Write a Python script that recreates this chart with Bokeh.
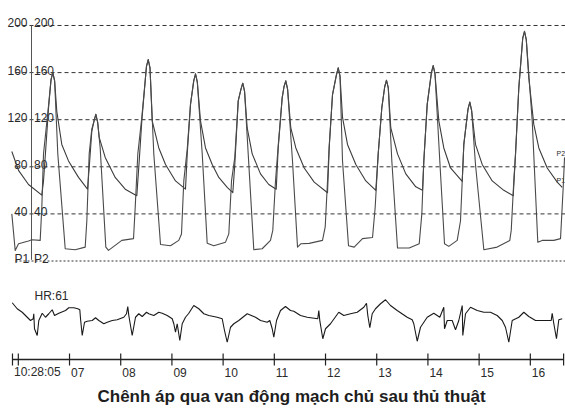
from bokeh.plotting import figure
from bokeh.models import Range1d, Title
from bokeh.embed import file_html
from bokeh.resources import INLINE
from bokeh.core.properties import value

# ---------------- data (time in s after 10:28:00, pressure in mmHg, ECG in mV) -------------
aorta_t = [5.873, 6.004, 6.199, 6.459,
           6.492, 6.537, 6.590, 6.639, 6.674, 6.709,
           6.752, 6.849, 6.980, 7.176, 7.351,
           7.384, 7.435, 7.479, 7.514, 7.549,
           7.580, 7.697, 7.892, 8.088, 8.314,
           8.361, 8.412, 8.478, 8.502, 8.537, 8.572,
           8.615, 8.744, 8.875, 9.070, 9.265,
           9.299, 9.363, 9.426, 9.461, 9.496,
           9.558, 9.656, 9.787, 9.916, 10.080, 10.189,
           10.228, 10.295, 10.349, 10.384, 10.419,
           10.470, 10.568, 10.730, 10.892, 11.037,
           11.076, 11.154, 11.189, 11.224, 11.259,
           11.322, 11.420, 11.584, 11.779, 12.039,
           12.072, 12.136, 12.213, 12.248, 12.283,
           12.332, 12.429, 12.592, 12.787, 12.982,
           13.029, 13.099, 13.156, 13.191, 13.226,
           13.275, 13.406, 13.568, 13.763, 13.894,
           13.920, 13.986, 14.068, 14.103, 14.138,
           14.213, 14.310, 14.441, 14.670,
           14.701, 14.783, 14.818, 14.853,
           14.929, 15.060, 15.256, 15.482, 15.666,
           15.711, 15.775, 15.851, 15.886, 15.921,
           15.970, 16.068, 16.166, 16.330, 16.525, 16.623]
aorta_p = [93, 77, 65, 56,
           68, 96, 130, 154, 160, 153,
           127, 99, 85, 71, 61,
           79, 110, 119, 124.5, 118,
           105, 88, 71, 61, 55.5,
           85, 119, 153, 165, 171, 164,
           119, 96, 82, 68, 61,
           91, 133, 153, 159, 152,
           119, 96, 82, 71, 62.5, 58,
           82, 136, 146, 151, 144,
           113, 91, 74, 65, 61,
           96, 138.6, 148, 153, 146,
           113, 96, 79, 67, 58,
           96, 141, 158, 164, 157,
           122, 99, 82, 68, 60,
           91, 130, 148, 153.5, 147,
           113, 91, 74, 63, 60,
           85, 133, 160, 166, 159,
           119, 96, 79, 67.6,
           99, 129, 135, 128,
           99, 82, 68, 60, 55.5,
           91, 147, 189, 195, 188,
           155.5, 116, 96, 79, 67, 62.5]

lv_t = [5.873, 5.939, 6.004, 6.199, 6.263, 6.427,
        6.459, 6.492, 6.590, 6.639, 6.674, 6.709, 6.771, 6.916, 7.111, 7.306,
        7.338, 7.384, 7.435, 7.479, 7.514, 7.549, 7.599, 7.709, 7.761, 8.021, 8.250,
        8.283, 8.334, 8.412, 8.478, 8.502, 8.537, 8.572, 8.646, 8.777, 8.972, 9.134, 9.187,
        9.232, 9.299, 9.363, 9.426, 9.461, 9.496, 9.592, 9.689, 9.818, 10.047, 10.111,
        10.164, 10.228, 10.295, 10.349, 10.384, 10.419, 10.490, 10.599, 10.763, 10.925, 10.970,
        11.023, 11.076, 11.154, 11.189, 11.224, 11.259, 11.355, 11.453, 11.517, 11.681, 11.941, 11.994,
        12.039, 12.072, 12.136, 12.213, 12.248, 12.283, 12.332, 12.449, 12.560, 12.722, 12.918,
        12.970, 13.029, 13.099, 13.156, 13.191, 13.226, 13.295, 13.406, 13.634, 13.830,
        13.881, 13.920, 13.986, 14.068, 14.103, 14.138, 14.232, 14.324, 14.408, 14.572, 14.636,
        14.670, 14.701, 14.783, 14.818, 14.853, 14.929, 15.092, 15.353, 15.599, 15.627,
        15.677, 15.711, 15.775, 15.851, 15.886, 15.921, 16.037, 16.146, 16.232, 16.459, 16.590,
        16.642, 16.668]
lv_p = [40, 9, 14.6, 17, 18, 17.5,
        45.6, 91, 132, 154, 160, 153, 91, 10.4, 9.6, 11.8,
        34, 91, 112, 119, 124.5, 118, 96, 11.8, 9, 17.5, 19,
        45.6, 91, 122, 153, 165, 171, 164, 91, 14, 13, 17.5, 23,
        68, 95, 133, 153, 159, 152, 91, 15, 13, 16, 23,
        68, 88, 136, 146, 151, 144, 91, 9.6, 10.4, 17.5, 26,
        68, 98, 139, 148, 153, 146, 85, 11.8, 14.6, 15, 17.5, 29,
        68, 98, 141, 158, 164, 157, 85, 13, 11.8, 19, 20,
        45.6, 91, 130, 148, 153.5, 147, 85, 11, 11, 14.6,
        40, 85, 133, 160, 166, 159, 85, 14.6, 12.4, 17.5, 34,
        68, 99, 129, 135, 128, 82, 9.6, 11.8, 17.5, 26,
        68, 91, 147, 189, 195, 188, 119, 16, 17.5, 17.5, 19,
        62.5, 88]

ecg_t = [5.881, 5.978, 6.076, 6.174, 6.238, 6.291, 6.302, 6.316, 6.369, 6.400, 6.467, 6.531,
         6.595, 6.662, 6.707, 6.791, 6.922, 6.986, 7.084, 7.162, 7.201, 7.215, 7.248, 7.293,
         7.345, 7.443, 7.508, 7.572, 7.670, 7.736, 7.834, 7.931, 8.060, 8.113, 8.138, 8.158,
         8.224, 8.289, 8.353, 8.420, 8.504, 8.548, 8.646, 8.744, 8.810, 8.908, 9.006, 9.037,
         9.070, 9.103, 9.154, 9.201, 9.265, 9.330, 9.427, 9.525, 9.623, 9.720, 9.884, 9.982,
         10.027, 10.080, 10.144, 10.209, 10.306, 10.470, 10.633, 10.730, 10.861, 10.912, 10.959,
         10.990, 11.043, 11.121, 11.218, 11.316, 11.381, 11.511, 11.642, 11.849, 11.869, 11.888,
         11.947, 12.000, 12.097, 12.259, 12.357, 12.488, 12.619, 12.748, 12.800, 12.826, 12.865,
         12.912, 12.976, 13.074, 13.172, 13.269, 13.400, 13.595, 13.693, 13.724, 13.791, 13.855,
         13.986, 14.115, 14.232, 14.310, 14.324, 14.377, 14.474, 14.539, 14.603, 14.670, 14.681,
         14.734, 14.832, 14.963, 15.092, 15.222, 15.353, 15.451, 15.515, 15.580, 15.646, 15.775,
         15.873, 15.970, 16.101, 16.408, 16.427, 16.459, 16.511, 16.556, 16.623]
ecg_mv = [0.55, 0.31, 0.17, -0.03, -0.16, -0.09, 0.11, -0.49, -0.76, -0.16, 0.13, -0.03,
          0.11, 0.27, 0.04, 0.13, 0.24, 0.35, 0.35, 0.31, 0.27, -0.09, -0.76, -0.23,
          -0.19, -0.16, -0.05, -0.16, -0.29, -0.23, -0.16, -0.13, -0.03, 0.11, 0.40, 0.04,
          -0.76, -0.03, 0.11, 0.00, 0.17, 0.11, 0.04, 0.17, 0.13, 0.04, -0.09, -0.29,
          -0.63, -0.29, -0.96, -0.29, -0.03, 0.13, 0.44, 0.31, 0.11, 0.04, -0.03, -0.09,
          -0.56, -1.03, -0.43, -0.29, -0.16, 0.11, -0.03, -0.16, -0.23, -0.16, -0.49,
          -0.83, -0.16, 0.24, 0.40, 0.24, 0.21, 0.04, -0.03, -0.09, 0.24, -0.16,
          -0.89, -0.49, -0.29, 0.17, 0.04, 0.11, 0.17, 0.37, 0.53, 0.04, -0.45,
          0.11, 0.31, 0.51, 0.67, 0.44, 0.24, -0.03, -0.13, -0.29, -0.99, -0.43,
          -0.03, 0.13, -0.03, 0.37, -0.49, -0.16, -0.16, -0.53, -0.16, 0.44, -0.76,
          0.11, 0.37, 0.24, 0.17, 0.17, 0.04, -0.16, -0.43, -1.03, -0.16, -0.03,
          0.17, 0.00, -0.16, -0.16, 0.13, -0.29, -0.89, -0.13, -0.09]

grid_levels = [200, 160, 120, 80, 40]
zero_level = [0]
scale_labels = ["200", "160", "120", "80", "40"]
channel_labels = ["P1", "P2"]
time_ticks = [5.886, 6, 7, 8, 9, 10, 11, 12, 13, 14, 15, 16]
time_end = 16.65
time_labels = ["10:28:05", "", "07", "08", "09", "10", "11", "12", "13", "14", "15", "16"]
hr_text = ["HR:61"]
title_text = "Chênh áp qua van động mạch chủ sau thủ thuật"

# ---------------- figure -------------
FONT = "Liberation Sans"
TXT = "#2a2a2a"
LINE = "#3c3c3c"

p = figure(frame_width=565, frame_height=382, output_backend="svg", toolbar_location=None,
           x_range=Range1d(5.652, 16.687), y_range=Range1d(-103.18, 221.23),
           x_axis_type=None, y_axis_type=None, min_border=0,
           outline_line_color=None, background_fill_color="white", border_fill_color="white")
# helper ranges in page pixel units (for layout elements only)
p.extra_x_ranges = {"px": Range1d(0, 565)}
p.extra_y_ranges = {"py": Range1d(382, 0), "ecg": Range1d(-2.64, 12.64)}

# pressure grid
p.segment(x0=15, x1=565, y0=grid_levels, y1=grid_levels, x_range_name="px",
          line_color="#333333", line_width=1, line_dash="4 3")
p.segment(x0=15, x1=565, y0=zero_level, y1=zero_level, x_range_name="px",
          line_color="#333333", line_width=1, line_dash="2 2")
# vertical scale line
p.segment(x0=[31], x1=[31], y0=[1], y1=[200], x_range_name="px",
          line_color="#555555", line_width=1)

# scale labels
p.text(x=27, y=grid_levels, text=scale_labels, x_range_name="px", y_offset=-2.5,
       text_align="right", text_baseline="alphabetic", text_font=value(FONT),
       text_font_size="12px", text_color=TXT)
p.text(x=33.5, y=grid_levels, text=scale_labels, x_range_name="px", y_offset=-2.5,
       text_align="left", text_baseline="alphabetic", text_font=value(FONT),
       text_font_size="12px", text_color=TXT)
p.text(x=[14, 33.5], y=[0, 0], text=channel_labels, x_range_name="px", y_offset=-2.5,
       text_align="left", text_baseline="alphabetic", text_font=value(FONT),
       text_font_size="12px", text_color=TXT)
# small channel tags at right edge
p.text(x=[556, 556], y=[153, 180], text=["P2", "P1"], x_range_name="px", y_range_name="py",
       text_align="left", text_baseline="alphabetic", text_font=value(FONT),
       text_font_size="7px", text_color=TXT)

# pressure traces
p.line(aorta_t, aorta_p, line_color=LINE, line_width=1.1, line_join="round")
p.line(lv_t, lv_p, line_color="#4a4a4a", line_width=1.1, line_join="round")

# ECG
p.text(x=34, y=295, text=hr_text, x_range_name="px", y_range_name="py",
       text_align="left", text_baseline="alphabetic", text_font=value(FONT),
       text_font_size="12px", text_color=TXT)
p.line(ecg_t, ecg_mv, y_range_name="ecg", line_color="#1a1a1a", line_width=1.1)

# time axis
p.segment(x0=[time_ticks[0]], x1=[time_end], y0=[359], y1=[359], y_range_name="py",
          line_color="#222222", line_width=1.6)
p.segment(x0=time_ticks + [time_end], x1=time_ticks + [time_end], y0=353, y1=365,
          y_range_name="py", line_color="#222222", line_width=1.2)
p.text(x=time_ticks, y=371.5, text=time_labels, y_range_name="py", x_offset=1.5,
       text_align="left", text_baseline="alphabetic", text_font=value(FONT),
       text_font_size="12px", text_color=TXT)

# title
p.add_layout(Title(text=title_text, align="left", offset=97, standoff=5,
                   text_font=FONT, text_font_size="17px", text_font_style="bold",
                   text_color="#1e1e1e"), "below")

open("out.html", "w").write(file_html(p, INLINE))
